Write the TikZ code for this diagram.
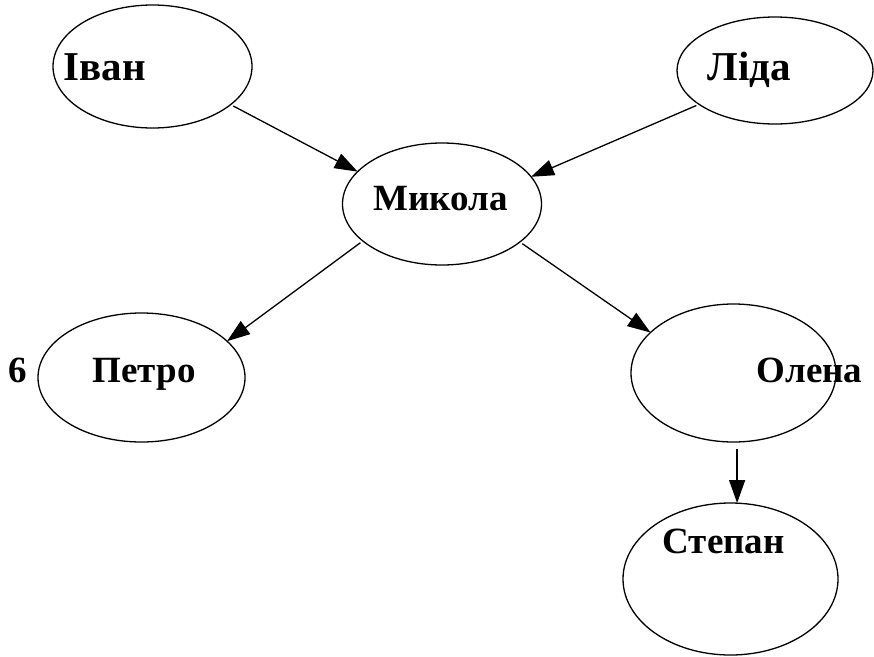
\documentclass[tikz,border=0pt]{standalone}
\usepackage{fontspec}
\setmainfont{Liberation Serif}
\usepackage{tikz}
\usetikzlibrary{arrows.meta,shapes.geometric}

\begin{document}
\begin{tikzpicture}[x=1pt,y=-1pt,line width=1.3pt,
  oval/.style={draw,ellipse,inner sep=0pt,outer sep=0pt},
  word/.style={inner sep=0pt,anchor=base west,font=\bfseries\fontsize{37}{37}\selectfont},
  bigword/.style={word,font=\bfseries\fontsize{41}{41}\selectfont},
  arr/.style={-{Triangle[length=23pt,width=16pt]},shorten <=3pt}]

\useasboundingbox (0,0) rectangle (874,656);

% ellipses
\node[oval,minimum width=199pt,minimum height=123pt] (ivan) at (152.5,66.5) {};
\node[oval,minimum width=196pt,minimum height=107pt] (lida) at (775,70.5) {};
\node[oval,minimum width=199pt,minimum height=122pt] (mykola) at (442,204) {};
\node[oval,minimum width=207pt,minimum height=129pt] (petro) at (141.5,377.5) {};
\node[oval,minimum width=205pt,minimum height=138pt] (olena) at (733.5,373) {};
\node[oval,minimum width=215pt,minimum height=152pt] (stepan) at (730.5,579) {};

% names
\node[bigword] (ivanT) at (63,80) {Іван};
\node[bigword] (lidaT) at (707,80) {Ліда};
\node[word] (mykolaT) at (373,210) {Микола};
\node[word] (petroT) at (92,382) {Петро};
\node[word] (six) at (8,382) {6};
\node[word] (olenaT) at (756,382) {Олена};
\node[word] (stepanT) at (662,553) {Степан};

% arrows
\draw[arr] (ivan.-26) -- (mykola.159);
\draw[arr] (lida.204) -- (mykola.17.5);
\draw[arr] (mykola.205) -- (petro.23.5);
\draw[arr] (mykola.-26.6) -- (olena.154);
\draw[arr,shorten <=7pt] (olena.-87) -- (olena.-87 |- stepan.north);

\end{tikzpicture}
\end{document}
